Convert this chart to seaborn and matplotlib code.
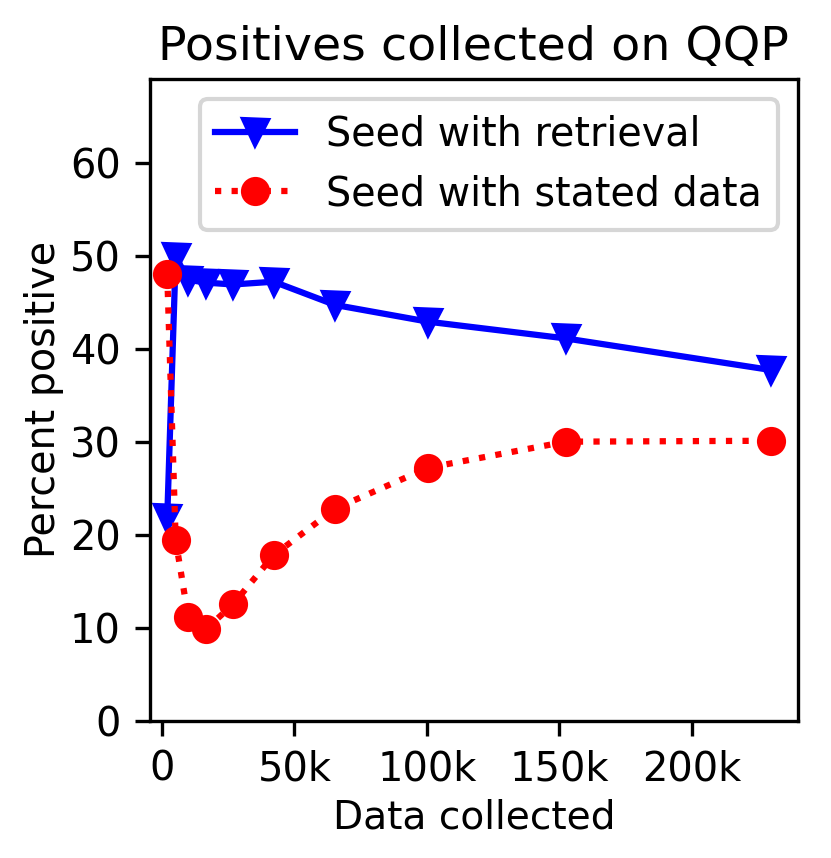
import numpy as np
import pandas as pd
import matplotlib
matplotlib.use("Agg")
import matplotlib.pyplot as plt
import seaborn as sns
from matplotlib.ticker import FuncFormatter

# data
data_collected = [2000, 5200, 9900, 16800, 26800, 42200, 65400, 100500, 152500, 230000]
retrieval = [21.8, 49.9, 47.4, 47.1, 46.9, 47.2, 44.7, 42.9, 41.1, 37.7]
stated = [48.0, 19.4, 11.2, 9.9, 12.5, 17.8, 22.8, 27.2, 30.0, 30.1]

df = pd.DataFrame({"x": data_collected, "retrieval": retrieval, "stated": stated})

fig = plt.figure(figsize=(2.77, 2.86), dpi=300)
ax = fig.add_axes([0.1805, 0.160, 0.7795, 0.748])

sns.lineplot(data=df, x="x", y="retrieval", ax=ax, color="blue", marker="v",
             linestyle="-", linewidth=1.5, markersize=6,
             markeredgecolor="blue", markeredgewidth=1, label="Seed with retrieval")
sns.lineplot(data=df, x="x", y="stated", ax=ax, color="red", marker="o",
             linestyle=":", linewidth=1.5, markersize=6,
             markeredgecolor="red", markeredgewidth=1, label="Seed with stated data")

ax.set_xlim(-4500, 240000)
ax.set_ylim(0, 69)
ax.set_yticks([0, 10, 20, 30, 40, 50, 60])
ax.set_xticks([0, 50000, 100000, 150000, 200000])
ax.xaxis.set_major_formatter(FuncFormatter(lambda v, p: "0" if v == 0 else f"{int(v/1000)}k"))
ax.tick_params(labelsize=9.6)
ax.set_title("Positives collected on QQP", fontsize=11.4, pad=4.5)
ax.set_xlabel("Data collected", fontsize=9.4, labelpad=2)
ax.set_ylabel("Percent positive", fontsize=9.5, labelpad=1.5)
ax.legend(loc="upper right", fontsize=9.5)

fig.savefig("out.png", dpi=300)
